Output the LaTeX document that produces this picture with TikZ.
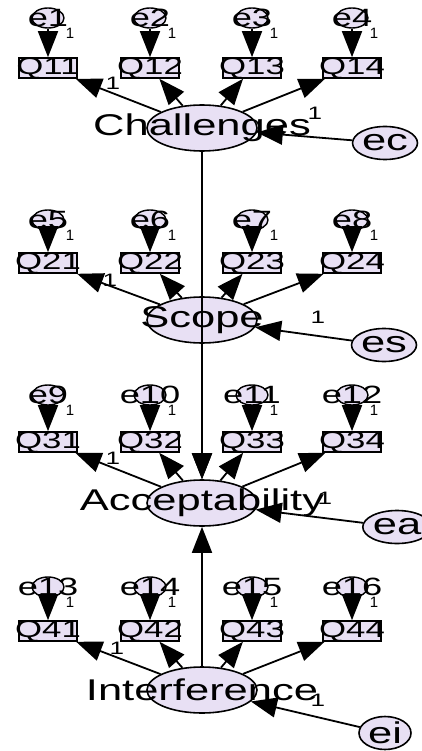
\documentclass[tikz,border=0pt]{standalone}
\usepackage{fontspec}
\setmainfont{Liberation Sans}
\newfontfamily\widefont[FakeStretch=1.45]{Liberation Sans}
\usetikzlibrary{arrows.meta,shapes.geometric}
\definecolor{lav}{RGB}{232,224,244}
\tikzset{
  latent/.style={ellipse, draw, line width=1.6pt, fill=lav, minimum width=110pt, minimum height=46pt, inner sep=0pt},
  lattext/.style={inner sep=0pt, font=\widefont\fontsize{30}{30}\selectfont},
  errsmall/.style={ellipse, draw, line width=1.4pt, fill=lav, minimum width=32pt, minimum height=20pt, inner sep=0pt},
  errtext/.style={inner sep=0pt, font=\widefont\fontsize{25}{25}\selectfont},
  errbig/.style={ellipse, draw, line width=1.6pt, fill=lav, minimum width=52pt, minimum height=33pt, inner sep=0pt, font=\widefont\fontsize{30}{30}\selectfont},
  obs/.style={rectangle, draw, line width=1.6pt, fill=lav, minimum width=58pt, minimum height=20pt, inner sep=0pt},
  obstext/.style={inner sep=0pt, font=\widefont\fontsize{24}{24}\selectfont},
  one/.style={inner sep=0pt, font=\widefont\fontsize{18}{18}\selectfont},
  onesmall/.style={inner sep=0pt, font=\fontsize{15}{15}\selectfont},
  arr/.style={line width=1.8pt, -{Triangle[length=26pt,width=20pt]}}
}
\begin{document}
\begin{tikzpicture}[x=1pt,y=-1pt]
\useasboundingbox[fill=white] (0,0) rectangle (422,751);
% one block per latent factor: indicators, their errors, the factor and its disturbance
\foreach \r/\lname/\ltext/\ey/\qy/\ly/\ename/\ex/\eyy/\ax/\ay/\bx/\by in {
  1/Ch/Challenges/18/68/128/ec/385/143/113/83/315/113,
  2/Sc/Scope/220/263/320/es/384/345/110/280/318/317,
  3/Ac/Acceptability/395/442/503/ea/397/527/113/458/325/498,
  4/In/Interference/587/631/690/ei/385/733/117/648/318/700}{
  \node[latent] (\lname) at (202,\ly) {};
  \node[lattext] (\lname t) at (\lname) {\ltext};
  \node[errbig] (\ename) at (\ex,\eyy) {\ename};
  \foreach \c/\xx in {1/48,2/150,3/252,4/352}{
    \pgfmathtruncatemacro{\en}{(\r-1)*4+\c}
    \node[obs] (Q\r\c) at (\xx,\qy) {};
    \node[obstext] (Q\r\c t) at (Q\r\c) {Q\r\c};
    \node[errsmall] (e\en) at (\xx,\ey) {};
    \node[errtext] (e\en t) at (e\en) {e\en};
    \draw[arr] (e\en) -- (Q\r\c);
    \node[onesmall] (e\en one) at (\xx+22,\ey+15) {1};
    \draw[arr] (\lname) -- (Q\r\c);
  }
  \draw[arr] (\ename) -- (\lname);
  \node[one] (\lname one) at (\ax,\ay) {1};
  \node[one] (\ename one) at (\bx,\by) {1};
}
% structural paths into Acceptability
\draw[arr] (Sc) -- (Ac);
\draw[arr] (Ch) -- (Ac);
\draw[arr] (In) -- (Ac);
\end{tikzpicture}
\end{document}
